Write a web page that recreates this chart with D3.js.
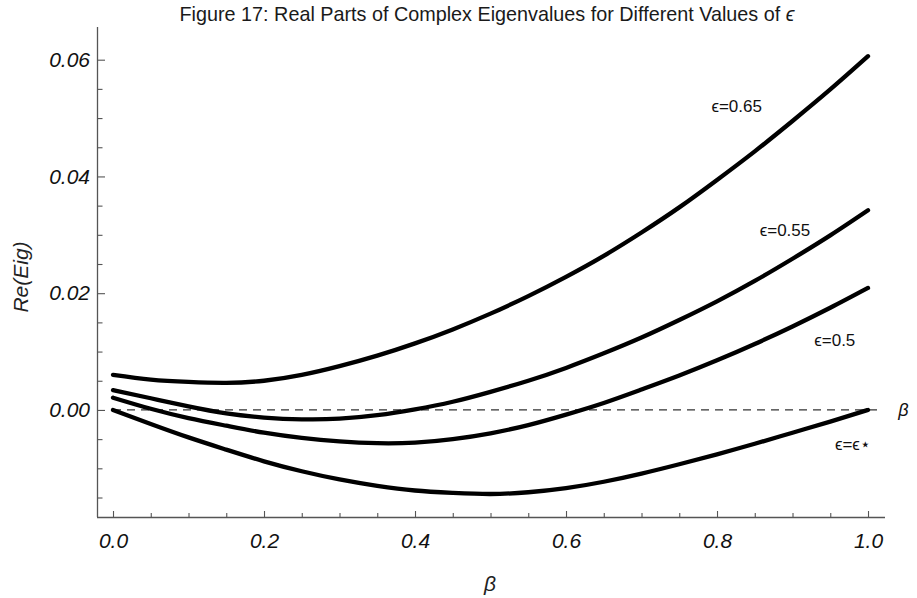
<!DOCTYPE html>
<html>
<head>
<meta charset="utf-8">
<script src="https://cdn.jsdelivr.net/npm/d3@7"></script>
<style>
  html, body { margin: 0; padding: 0; background: #fff; }
  svg { display: block; }
  text { font-family: "Liberation Sans", Arial, sans-serif; }
</style>
</head>
<body>
<svg id="chart" width="917" height="598"></svg>
<script>
// ---- data ----
const titleText = "Figure 17: Real Parts of Complex Eigenvalues for Different Values of ";
const beta = [0,0.05,0.1,0.15,0.2,0.25,0.3,0.35,0.4,0.45,0.5,0.55,0.6,0.65,0.7,0.75,0.8,0.85,0.9,0.95,1.0];
const eps065 = [0.0060,0.0052,0.0048,0.00465,0.0050,0.0060,0.0075,0.0093,0.0114,0.0138,0.0165,0.0195,0.0228,0.0264,0.0304,0.0347,0.0394,0.0443,0.0495,0.0549,0.0606];
const eps055 = [0.0034,0.0020,0.0006,-0.0006,-0.0013,-0.0016,-0.0015,-0.0009,0.0001,0.0014,0.0031,0.0050,0.0072,0.0097,0.0124,0.0154,0.0186,0.0221,0.0259,0.0299,0.0342];
const eps050 = [0.0021,0.0002,-0.0014,-0.0027,-0.0039,-0.0048,-0.0054,-0.0057,-0.0056,-0.0050,-0.0040,-0.0026,-0.0008,0.0012,0.0035,0.0059,0.0085,0.0113,0.0143,0.0175,0.0209];
const epsStar = [0.0000,-0.0024,-0.0047,-0.0068,-0.0088,-0.0105,-0.0119,-0.0130,-0.0138,-0.0142,-0.0144,-0.0141,-0.0134,-0.0123,-0.0109,-0.0093,-0.0076,-0.0058,-0.0039,-0.0020,0.0000];
const seriesNames = ["ϵ=0.65","ϵ=0.55","ϵ=0.5","ϵ=ϵ⋆"];
const xTickValues = [0,0.2,0.4,0.6,0.8,1.0];
const xTickLabels = ["0.0","0.2","0.4","0.6","0.8","1.0"];
const xMinorTicks = [0.05,0.1,0.15,0.25,0.3,0.35,0.45,0.5,0.55,0.65,0.7,0.75,0.85,0.9,0.95];
const yTickValues = [0,0.02,0.04,0.06];
const yTickLabels = ["0.00","0.02","0.04","0.06"];
const yMinorTicks = [-0.015,-0.01,-0.005,0.005,0.01,0.015,0.025,0.03,0.035,0.045,0.05,0.055];
// label anchors (data space)
const labelBeta = [0.826,0.890,0.956,0.980];
const labelVal = [0.0521,0.0308,0.0120,-0.0058];

// ---- layout ----
const svg = d3.select("#chart");
const x = d3.scaleLinear().domain([-0.0212, 1.0225]).range([97, 885]);
const y = d3.scaleLinear().domain([-0.01834, 0.0656]).range([517, 27]);

// title
svg.append("text")
  .attr("x", 487).attr("y", 21)
  .attr("text-anchor", "middle")
  .attr("font-size", 19.8)
  .attr("fill", "#1a1a1a")
  .text(titleText)
  .append("tspan").attr("font-style", "italic").text("ϵ");

// zero dashed line
svg.append("line")
  .attr("x1", x(0)).attr("x2", x(1.0197))
  .attr("y1", y(0)).attr("y2", y(0))
  .attr("stroke", "#333").attr("stroke-width", 1.2)
  .attr("stroke-dasharray", "8,6");

svg.append("text")
  .attr("x", x(1.047)).attr("y", y(0))
  .attr("dy", "0.35em")
  .attr("text-anchor", "middle")
  .attr("font-size", 18).attr("font-style", "italic")
  .attr("fill", "#111")
  .text("β");

// axes
const axisColor = "#555";
const gx = svg.append("g").attr("transform", `translate(0,517)`);
gx.call(d3.axisBottom(x).tickValues(xMinorTicks).tickSize(-4).tickFormat(""));
gx.call(g => g.select(".domain").remove());
const gx2 = svg.append("g").attr("transform", `translate(0,517)`);
gx2.call(d3.axisBottom(x).tickValues(xTickValues).tickSize(-6).tickPadding(16)
  .tickFormat((d, i) => xTickLabels[i]));
gx2.select(".domain").attr("d", `M97,0.5H885`);
[gx, gx2].forEach(g => {
  g.selectAll("line").attr("stroke", axisColor).attr("stroke-width", 1.1);
  g.selectAll("path").attr("stroke", axisColor).attr("stroke-width", 1.3);
});
gx2.selectAll("text").attr("font-size", 21).attr("font-style", "italic")
  .attr("fill", "#111").attr("font-family", "Liberation Sans, Arial, sans-serif");

const gy = svg.append("g").attr("transform", `translate(97,0)`);
gy.call(d3.axisLeft(y).tickValues(yMinorTicks).tickSize(-5.5).tickFormat(""));
gy.call(g => g.select(".domain").remove());
const gy2 = svg.append("g").attr("transform", `translate(97,0)`);
gy2.call(d3.axisLeft(y).tickValues(yTickValues).tickSize(-8).tickPadding(7)
  .tickFormat((d, i) => yTickLabels[i]));
gy2.select(".domain").attr("d", `M0.5,27V517`);
[gy, gy2].forEach(g => {
  g.selectAll("line").attr("stroke", axisColor).attr("stroke-width", 1.1);
  g.selectAll("path").attr("stroke", axisColor).attr("stroke-width", 1.3);
});
gy2.selectAll("text").attr("font-size", 21).attr("font-style", "italic")
  .attr("fill", "#111").attr("font-family", "Liberation Sans, Arial, sans-serif");

// axis titles
svg.append("text")
  .attr("x", 490).attr("y", 591)
  .attr("text-anchor", "middle")
  .attr("font-size", 21).attr("font-style", "italic").attr("fill", "#222")
  .text("β");
svg.append("text")
  .attr("transform", "translate(28,277) rotate(-90)")
  .attr("text-anchor", "middle")
  .attr("font-size", 21).attr("font-style", "italic").attr("fill", "#222")
  .text("Re(Eig)");

// curves
const series = [eps065, eps055, eps050, epsStar];
const line = d3.line()
  .x((d, i) => x(beta[i]))
  .y(d => y(d))
  .curve(d3.curveNatural);
svg.append("g").selectAll("path")
  .data(series)
  .join("path")
  .attr("d", d => line(d))
  .attr("fill", "none")
  .attr("stroke", "#000")
  .attr("stroke-width", 4.3)
  .attr("stroke-linecap", "round")
  .attr("stroke-linejoin", "round");

// curve labels
svg.append("g").selectAll("text")
  .data(seriesNames)
  .join("text")
  .attr("x", (d, i) => x(labelBeta[i]))
  .attr("y", (d, i) => y(labelVal[i]))
  .attr("dy", "0.35em")
  .attr("text-anchor", "middle")
  .attr("font-size", 17)
  .attr("fill", "#111")
  .text(d => d);
</script>
</body>
</html>
